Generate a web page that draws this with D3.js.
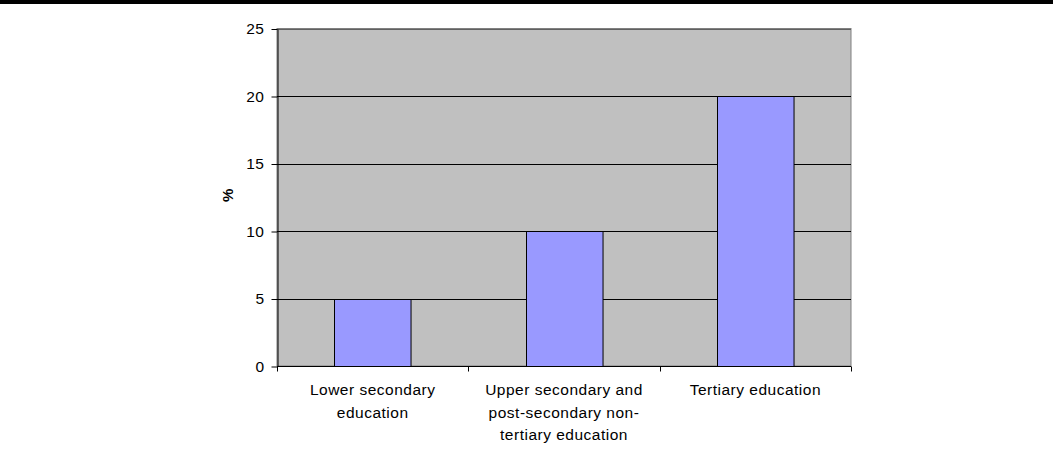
<!DOCTYPE html>
<html>
<head>
<meta charset="utf-8">
<script src="https://cdn.jsdelivr.net/npm/d3@7"></script>
<style>
  body { margin: 0; background: #fff; }
  svg { display: block; font-family: "Liberation Sans", Arial, sans-serif; }
</style>
</head>
<body>
<script>
// chart data
const categories = [
	["Lower secondary", "education"],
	["Upper secondary and", "post-secondary non-", "tertiary education"],
	["Tertiary education"]
];
const values = [5, 10, 20];
const yTicks = [0, 5, 10, 15, 20, 25];

const svg = d3.select("body").append("svg")
	.attr("width", 1053)
	.attr("height", 455);

// black band along the top
svg.append("rect")
	.attr("x", 0).attr("y", 0)
	.attr("width", 1053).attr("height", 4)
	.attr("fill", "#000");

const plotLeft = 277, plotRight = 851, plotTop = 28.5, plotBottom = 366;

const x = d3.scaleBand()
	.domain(d3.range(categories.length))
	.range([plotLeft, plotRight])
	.paddingInner(0.6)
	.paddingOuter(0.3);

const xTick = d3.scaleBand()
	.domain(d3.range(categories.length))
	.range([plotLeft, plotRight]);

const y = d3.scaleLinear()
	.domain([0, 25])
	.range([plotBottom, plotTop]);

// plot background
svg.append("rect")
	.attr("x", plotLeft).attr("y", plotTop)
	.attr("width", plotRight - plotLeft).attr("height", plotBottom - plotTop)
	.attr("fill", "#c0c0c0")
	.attr("stroke", "#808080");

// gridlines
svg.selectAll("line.grid")
	.data(yTicks.filter(d => d > 0))
	.enter().append("line")
	.attr("class", "grid")
	.attr("x1", plotLeft).attr("x2", plotRight)
	.attr("y1", d => Math.round(y(d)) + 0.5)
	.attr("y2", d => Math.round(y(d)) + 0.5)
	.attr("stroke", d => d === 25 ? "#606060" : "#000")
	.attr("stroke-width", 1);

// bars
svg.selectAll("rect.bar")
	.data(values)
	.enter().append("rect")
	.attr("class", "bar")
	.attr("x", (d, i) => Math.round(x(i)) + 0.5)
	.attr("y", d => Math.round(y(d)) + 0.5)
	.attr("width", x.bandwidth())
	.attr("height", d => Math.round(y(0)) - Math.round(y(d)))
	.attr("fill", "#9999ff")
	.attr("stroke", "#000")
	.attr("stroke-width", 1);

// y axis
const yAxis = svg.append("g")
	.attr("transform", `translate(${plotLeft + 0.5},0.5)`)
	.call(d3.axisLeft(y).tickValues(yTicks).tickSize(6).tickPadding(7).tickSizeOuter(0));
yAxis.select(".domain").attr("stroke", "#000");
yAxis.selectAll("text")
	.attr("font-size", 15.5)
	.attr("letter-spacing", 0.5)
	.attr("fill", "#000")
	.attr("font-family", "Liberation Sans, Arial, sans-serif");

// x axis
const xAxisG = svg.append("g")
	.attr("transform", `translate(0,${Math.round(plotBottom) + 0.5})`);
xAxisG.append("line")
	.attr("x1", plotLeft).attr("x2", plotRight)
	.attr("stroke", "#000");
xAxisG.selectAll("line.tick")
	.data(d3.range(categories.length + 1))
	.enter().append("line")
	.attr("class", "tick")
	.attr("x1", i => Math.round(i < categories.length ? xTick(i) : plotRight) + 0.5)
	.attr("x2", i => Math.round(i < categories.length ? xTick(i) : plotRight) + 0.5)
	.attr("y1", 0).attr("y2", 5)
	.attr("stroke", "#000");

const labels = svg.selectAll("text.cat")
	.data(categories)
	.enter().append("text")
	.attr("class", "cat")
	.attr("text-anchor", "middle")
	.attr("font-size", 15.5)
	.attr("letter-spacing", 0.5)
	.attr("fill", "#000");
labels.each(function(lines, i) {
	const cx = xTick(i) + xTick.bandwidth() / 2;
	d3.select(this).selectAll("tspan")
		.data(lines)
		.enter().append("tspan")
		.attr("x", cx)
		.attr("y", (d, j) => 395 + j * 22.5)
		.text(d => d);
});

// y axis title
svg.append("text")
	.attr("transform", `translate(233,${(plotTop + plotBottom) / 2 - 2}) rotate(-90)`)
	.attr("text-anchor", "middle")
	.attr("font-size", 15)
	.attr("font-weight", "bold")
	.text("%");
</script>
</body>
</html>
